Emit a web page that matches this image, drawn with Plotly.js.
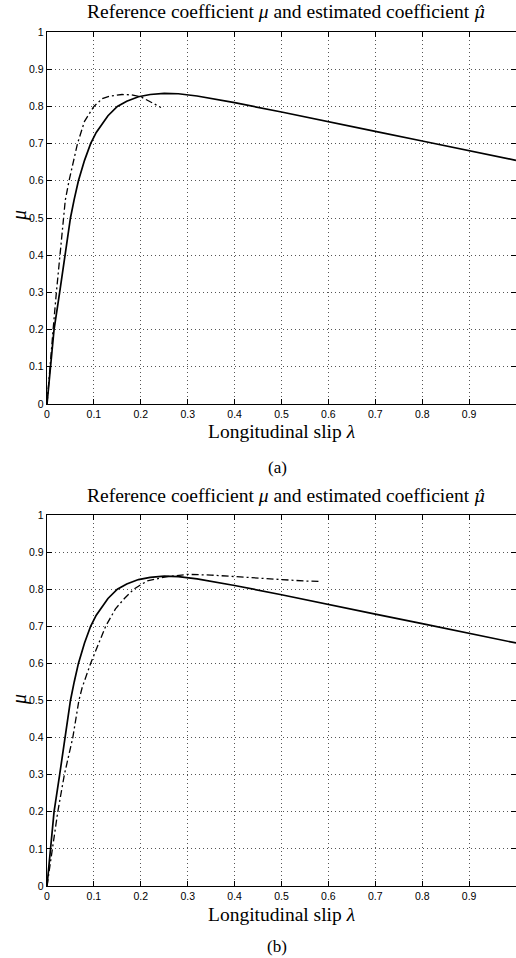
<!DOCTYPE html>
<html>
<head>
<meta charset="utf-8">
<script src="https://cdn.plot.ly/plotly-3.0.1.min.js"></script>
<style>html,body{margin:0;padding:0;background:#fff;}#chart{width:516px;height:958px;}</style>
</head>
<body>
<div id="chart"></div>
<script>
// Reference friction curve mu(lambda) (same in both panels)
const refLambda = [0, 0.007, 0.015, 0.027, 0.038, 0.05, 0.058, 0.067, 0.08, 0.093, 0.105, 0.118, 0.13, 0.15, 0.17, 0.195, 0.22, 0.25, 0.28, 0.32, 0.4, 0.5, 0.6, 0.7, 0.8, 0.9, 1.0];
const refMu     = [0, 0.1, 0.2, 0.3, 0.4, 0.5, 0.55, 0.6, 0.655, 0.7, 0.73, 0.755, 0.775, 0.8, 0.814, 0.826, 0.832, 0.835, 0.834, 0.828, 0.81, 0.785, 0.76, 0.733, 0.707, 0.681, 0.655];

// Estimated coefficient, panel (a)
const estALambda = [0, 0.006, 0.013, 0.02, 0.028, 0.039, 0.047, 0.056, 0.065, 0.08, 0.1, 0.118, 0.135, 0.16, 0.18, 0.2, 0.22, 0.243];
const estAMu     = [0, 0.1, 0.2, 0.3, 0.4, 0.548, 0.6, 0.65, 0.7, 0.76, 0.8, 0.821, 0.828, 0.832, 0.831, 0.826, 0.812, 0.797];

// Estimated coefficient, panel (b)
const estBLambda = [0, 0.012, 0.023, 0.037, 0.055, 0.068, 0.075, 0.093, 0.125, 0.146, 0.165, 0.185, 0.213, 0.256, 0.3, 0.35, 0.4, 0.45, 0.5, 0.55, 0.585];
const estBMu     = [0, 0.1, 0.2, 0.3, 0.4, 0.5, 0.535, 0.6, 0.7, 0.747, 0.775, 0.8, 0.822, 0.834, 0.84, 0.838, 0.834, 0.829, 0.825, 0.822, 0.821];

const xTicks = [0, 0.1, 0.2, 0.3, 0.4, 0.5, 0.6, 0.7, 0.8, 0.9];
const xTickText = ['0', '0.1', '0.2', '0.3', '0.4', '0.5', '0.6', '0.7', '0.8', '0.9'];
const yTicks = [0, 0.1, 0.2, 0.3, 0.4, 0.5, 0.6, 0.7, 0.8, 0.9, 1];
const yTickText = ['0', '0.1', '0.2', '0.3', '0.4', '0.5', '0.6', '0.7', '0.8', '0.9', '1'];

const titleText = 'Reference coefficient <i>μ</i> and estimated coefficient <span style="font-family:DejaVu Serif;font-size:17px"><i>μ\u0302</i></span>';
const xTitle = 'Longitudinal slip <i>λ</i>';
const yTitle = '<i>μ</i>';
const panelLabels = ['(a)', '(b)'];

const solidLine = {color: '#000', width: 1.7};
const dashLine = {color: '#000', width: 1.3, dash: '7px,3px,2px,3px'};

const traces = [
  {x: refLambda, y: refMu, xaxis: 'x', yaxis: 'y', mode: 'lines', line: solidLine},
  {x: estALambda, y: estAMu, xaxis: 'x', yaxis: 'y', mode: 'lines', line: dashLine},
  {x: refLambda, y: refMu, xaxis: 'x2', yaxis: 'y2', mode: 'lines', line: solidLine},
  {x: estBLambda, y: estBMu, xaxis: 'x2', yaxis: 'y2', mode: 'lines', line: dashLine}
];

const W = 516, H = 958, ML = 47, MR = 0, MT = 32, MB = 72;
const PW = W - ML - MR, PH = H - MT - MB;
const px2x = p => (p - ML) / PW;
const px2y = p => (H - MB - p) / PH;

const tickFont = {family: 'Liberation Sans, Arial, sans-serif', size: 10.5, color: '#000'};
function axisBase() {
  return {
    range: [0, 1],
    ticks: 'inside', ticklen: 5, tickcolor: '#000', tickwidth: 1,
    showline: true, linecolor: '#000', linewidth: 1.3, mirror: 'ticks',
    showgrid: true, gridcolor: '#555', griddash: '1px,3px', gridwidth: 1,
    zeroline: false, tickfont: tickFont, fixedrange: true
  };
}
function xAx(anchor) {
  return Object.assign(axisBase(), {anchor: anchor, tickvals: xTicks, ticktext: xTickText});
}
function yAx(anchor, domain) {
  return Object.assign(axisBase(), {anchor: anchor, domain: domain, tickvals: yTicks, ticktext: yTickText});
}

const serif = 'Liberation Serif, Times New Roman, serif';
function ann(text, xp, yp, size, extra) {
  return Object.assign({
    text: text, xref: 'paper', yref: 'paper', x: px2x(xp), y: px2y(yp),
    xanchor: 'center', yanchor: 'middle', showarrow: false,
    font: {family: serif, size: size, color: '#000'}
  }, extra || {});
}

const layout = {
  width: W, height: H,
  margin: {l: ML, r: MR, t: MT, b: MB, pad: 0},
  paper_bgcolor: '#fff', plot_bgcolor: '#fff',
  showlegend: false,
  xaxis: xAx('y'),
  yaxis: yAx('x', [px2y(404), 1]),
  xaxis2: xAx('y2'),
  yaxis2: yAx('x2', [0, px2y(515)]),
  annotations: [
    ann(titleText, 286, 12, 19.5),
    ann(xTitle, 281, 432, 19.5),
    ann(yTitle, 19, 216, 20, {textangle: -90}),
    ann(panelLabels[0], 277, 467, 17),
    ann(titleText, 286, 496, 19.5),
    ann(xTitle, 281, 914, 19.5),
    ann(yTitle, 19, 700, 20, {textangle: -90}),
    ann(panelLabels[1], 277, 946, 17)
  ]
};

Plotly.newPlot('chart', traces, layout, {staticPlot: true, displayModeBar: false});
</script>
</body>
</html>
